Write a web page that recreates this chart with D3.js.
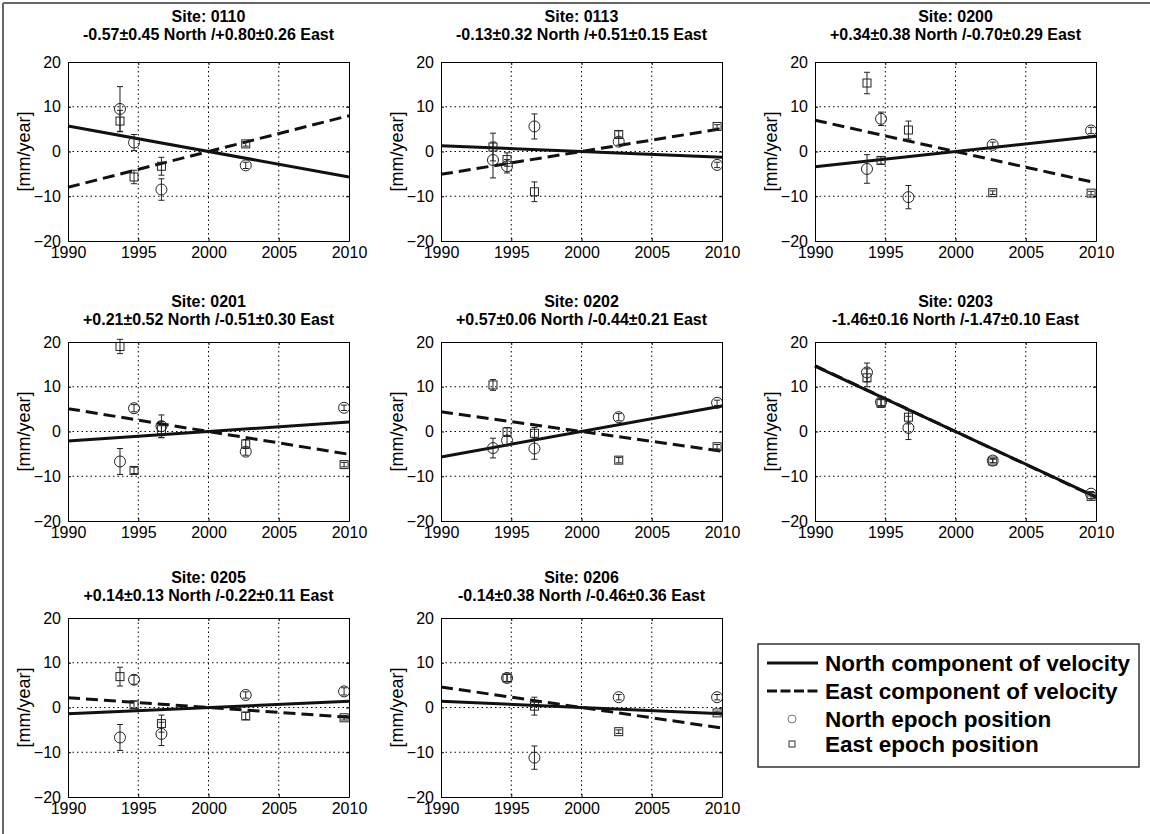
<!DOCTYPE html>
<html>
<head>
<meta charset="utf-8">
<script src="https://d3js.org/d3.v7.min.js"></script>
<style>
  body { margin: 0; background: #fff; }
  svg { display: block; font-family: "Liberation Sans", Arial, sans-serif; }
</style>
</head>
<body>
<svg id="chart" width="1150" height="834"></svg>
<script>
// site list and fitted velocities (mm/year)
const sites = ['0110', '0113', '0200', '0201', '0202', '0203', '0205', '0206'];
const northVel = [-0.57, -0.13, 0.34, 0.21, 0.57, -1.46, 0.14, -0.14];
const northVelErr = [0.45, 0.32, 0.38, 0.52, 0.06, 0.16, 0.13, 0.38];
const eastVel = [0.80, 0.51, -0.70, -0.51, -0.44, -1.47, -0.22, -0.46];
const eastVelErr = [0.26, 0.15, 0.29, 0.30, 0.21, 0.10, 0.11, 0.36];

// survey epochs
const epochs = [1993.7, 1994.7, 1996.65, 2002.65, 2009.65];

// epoch positions per site (null = not observed)
const northPos = [
    [9.5, 2.0, -8.5, -3.1, null],
    [-1.9, -3.3, 5.6, 2.2, -3.0],
    [-3.9, 7.3, -10.2, 1.5, 4.7],
    [-6.7, 5.2, 1.2, -4.5, 5.3],
    [-3.7, -2.0, -3.8, 3.2, 6.4],
    [13.2, 6.6, 0.8, -6.5, -13.9],
    [-6.7, 6.2, -5.9, 2.8, 3.6],
    [null, 6.6, -11.2, 2.3, 2.3]
];
const northErr = [
    [5.0, 1.8, 2.4, 0.7, null],
    [4.0, 1.5, 2.8, 0.8, 0.6],
    [3.2, 1.5, 2.6, 0.6, 0.7],
    [2.9, 0.8, 2.5, 0.8, 0.6],
    [2.2, 1.0, 2.4, 0.8, 0.6],
    [2.1, 0.8, 2.6, 0.5, 0.5],
    [2.9, 1.0, 2.6, 0.7, 0.8],
    [null, 0.8, 2.6, 0.6, 0.6]
];
const eastPos = [
    [6.8, -5.7, -3.3, 1.7, null],
    [1.0, -1.8, -9.0, 3.8, 5.6],
    [15.3, -2.0, 4.8, -9.2, -9.3],
    [19.0, -8.7, 0.4, -2.8, -7.4],
    [10.4, -0.1, -0.4, -6.4, -3.4],
    [12.0, 6.3, 3.2, -6.6, -14.5],
    [6.9, 0.6, -3.6, -1.9, -2.3],
    [null, 6.6, 0.3, -5.4, -1.2]
];
const eastErr = [
    [2.4, 1.5, 2.0, 0.5, null],
    [3.1, 1.5, 2.2, 0.8, 0.4],
    [2.4, 0.8, 2.0, 0.4, 0.4],
    [1.6, 0.7, 1.8, 1.0, 0.5],
    [1.2, 1.0, 1.3, 0.6, 0.5],
    [2.0, 0.8, 1.5, 0.4, 0.5],
    [2.1, 0.8, 1.9, 0.8, 0.5],
    [null, 0.8, 2.0, 0.4, 0.4]
];

const xTicks = [1990, 1995, 2000, 2005, 2010];
const yTicks = [-20, -10, 0, 10, 20];
const xDomain = [1990, 2010];
const yDomain = [-20, 20];
const refYear = 2000;

const legendLabels = ['North component of velocity', 'East component of velocity',
    'North epoch position', 'East epoch position'];

// layout
const colX = [68, 441, 815];
const rowY = [62, 342, 618];
const titleShift = [-5, 0, 0];
const plotW = 281;
const plotH = 179;
const ink = '#111';

const svg = d3.select('#chart');

// outer frame (only top/left visible in the original)
svg.append('line').attr('x1', 3).attr('y1', 3).attr('x2', 1150).attr('y2', 3)
    .attr('stroke', '#666').attr('stroke-width', 2);
svg.append('line').attr('x1', 3).attr('y1', 3).attr('x2', 3).attr('y2', 834)
    .attr('stroke', '#666').attr('stroke-width', 2);

function sgn(v) {
    return (v < 0 ? '-' : '+') + Math.abs(v).toFixed(2);
}

sites.forEach(function (site, i) {
    const row = Math.floor(i / 3);
    const ox = colX[i % 3];
    const oy = rowY[row];

    const x = d3.scaleLinear().domain(xDomain).range([0, plotW]);
    const y = d3.scaleLinear().domain(yDomain).range([plotH, 0]);

    const g = svg.append('g').attr('transform', `translate(${ox},${oy})`);

    // titles
    g.append('text')
        .attr('x', plotW / 2).attr('y', -35 + titleShift[row])
        .attr('text-anchor', 'middle')
        .style('font-size', '16px').style('font-weight', 'bold')
        .text('Site: ' + site);
    g.append('text')
        .attr('x', plotW / 2).attr('y', -17 + titleShift[row])
        .attr('text-anchor', 'middle')
        .style('font-size', '16px').style('font-weight', 'bold')
        .text(sgn(northVel[i]) + '\u00b1' + northVelErr[i].toFixed(2) + ' North /' +
            sgn(eastVel[i]) + '\u00b1' + eastVelErr[i].toFixed(2) + ' East');

    // y label
    g.append('text')
        .attr('transform', `translate(-38,${plotH / 2}) rotate(-90)`)
        .attr('text-anchor', 'middle')
        .style('font-size', '18px')
        .text('[mm/year]');

    // dotted grid
    const grid = g.append('g').attr('stroke', '#000').attr('stroke-width', 1)
        .attr('stroke-dasharray', '1.5,3');
    grid.selectAll('line.gx')
        .data(xTicks.slice(1, -1))
        .enter().append('line')
        .attr('x1', d => x(d)).attr('x2', d => x(d))
        .attr('y1', 0).attr('y2', plotH);
    grid.selectAll('line.gy')
        .data(yTicks.slice(1, -1))
        .enter().append('line')
        .attr('x1', 0).attr('x2', plotW)
        .attr('y1', d => y(d)).attr('y2', d => y(d));

    // velocity lines through zero at the reference year
    const line = d3.line().x(d => x(d[0])).y(d => y(d[1]));
    g.append('path')
        .datum(xDomain.map(t => [t, eastVel[i] * (t - refYear)]))
        .attr('d', line)
        .attr('fill', 'none').attr('stroke', ink).attr('stroke-width', 3)
        .attr('stroke-dasharray', '12,6');
    g.append('path')
        .datum(xDomain.map(t => [t, northVel[i] * (t - refYear)]))
        .attr('d', line)
        .attr('fill', 'none').attr('stroke', ink).attr('stroke-width', 3);

    // epoch points with error bars
    const pts = [];
    epochs.forEach(function (t, k) {
        if (northPos[i][k] != null)
            pts.push({ t: t, v: northPos[i][k], e: northErr[i][k], kind: 'N' });
        if (eastPos[i][k] != null)
            pts.push({ t: t, v: eastPos[i][k], e: eastErr[i][k], kind: 'E' });
    });

    const bars = g.append('g').attr('stroke', '#222').attr('stroke-width', 1);
    pts.forEach(function (p) {
        const cx = x(p.t);
        bars.append('line').attr('x1', cx).attr('x2', cx)
            .attr('y1', y(p.v - p.e)).attr('y2', y(p.v + p.e));
        bars.append('line').attr('x1', cx - 3).attr('x2', cx + 3)
            .attr('y1', y(p.v - p.e)).attr('y2', y(p.v - p.e));
        bars.append('line').attr('x1', cx - 3).attr('x2', cx + 3)
            .attr('y1', y(p.v + p.e)).attr('y2', y(p.v + p.e));
    });

    g.selectAll('circle.n')
        .data(pts.filter(p => p.kind == 'N'))
        .enter().append('circle')
        .attr('cx', d => x(d.t)).attr('cy', d => y(d.v)).attr('r', 5.5)
        .attr('fill', 'none').attr('stroke', '#222').attr('stroke-width', 1);
    g.selectAll('rect.e')
        .data(pts.filter(p => p.kind == 'E'))
        .enter().append('rect')
        .attr('x', d => x(d.t) - 4).attr('y', d => y(d.v) - 4)
        .attr('width', 8).attr('height', 8)
        .attr('fill', 'none').attr('stroke', '#222').attr('stroke-width', 1);

    // axes (ticks pointing inward like matlab)
    const axStyle = function (sel) {
        sel.selectAll('.domain').attr('stroke', '#000');
        sel.selectAll('.tick line').attr('stroke', '#000');
        sel.selectAll('.tick text').attr('fill', '#000')
            .style('font-size', '16px')
            .style('font-family', '"Liberation Sans", Arial, sans-serif');
    };
    g.append('g').attr('transform', `translate(0,${plotH})`)
        .call(d3.axisBottom(x).tickValues(xTicks).tickFormat(d3.format('d'))
            .tickSize(-3).tickSizeOuter(0).tickPadding(6))
        .call(axStyle);
    g.append('g')
        .call(d3.axisLeft(y).tickValues(yTicks).tickSize(-3).tickSizeOuter(0).tickPadding(7))
        .call(axStyle);
    g.append('g')
        .call(d3.axisTop(x).tickValues(xTicks).tickFormat('').tickSize(-3).tickSizeOuter(0))
        .call(axStyle);
    g.append('g').attr('transform', `translate(${plotW},0)`)
        .call(d3.axisRight(y).tickValues(yTicks).tickFormat('').tickSize(-3).tickSizeOuter(0))
        .call(axStyle);
});

// legend
const lg = svg.append('g').attr('transform', 'translate(758,644)');
lg.append('rect').attr('width', 381).attr('height', 123)
    .attr('fill', '#fff').attr('stroke', '#333').attr('stroke-width', 1.5);

const rowOff = [19, 47, 75, 100];
legendLabels.forEach(function (lab, k) {
    const ry = rowOff[k];
    if (k == 0)
        lg.append('line').attr('x1', 9).attr('x2', 60).attr('y1', ry).attr('y2', ry)
            .attr('stroke', ink).attr('stroke-width', 3);
    else if (k == 1)
        lg.append('line').attr('x1', 9).attr('x2', 60).attr('y1', ry).attr('y2', ry)
            .attr('stroke', ink).attr('stroke-width', 3).attr('stroke-dasharray', '10,3.5');
    else if (k == 2)
        lg.append('circle').attr('cx', 34).attr('cy', ry).attr('r', 4)
            .attr('fill', 'none').attr('stroke', '#777').attr('stroke-width', 1);
    else
        lg.append('rect').attr('x', 31).attr('y', ry - 3).attr('width', 6).attr('height', 6)
            .attr('fill', 'none').attr('stroke', '#333').attr('stroke-width', 1);

    lg.append('text')
        .attr('x', 67).attr('y', ry)
        .attr('dy', '0.35em')
        .style('font-size', '22.5px').style('font-weight', 'bold')
        .text(lab);
});
</script>
</body>
</html>
